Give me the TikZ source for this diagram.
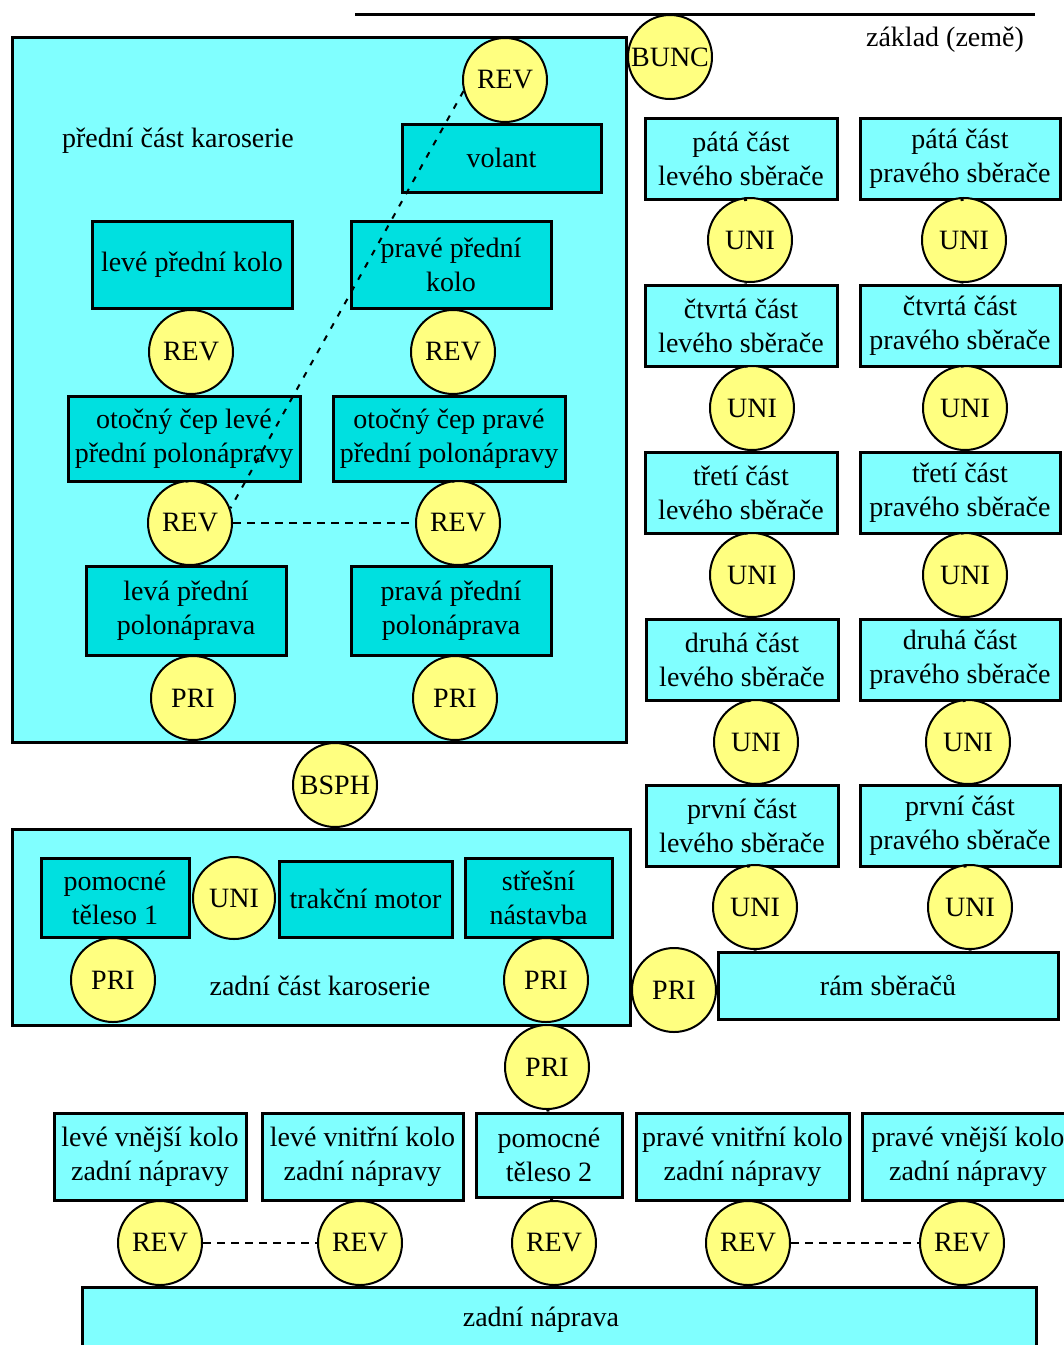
\documentclass[tikz,border=0pt]{standalone}
\usepackage{fontspec}
\setmainfont{Liberation Serif}
\definecolor{svetla}{HTML}{80FFFF}
\definecolor{tmava}{HTML}{00E0E0}
\definecolor{kloub}{HTML}{FFFF80}

\begin{document}
\begin{tikzpicture}[x=1pt, y=-1pt,
		every node/.style={font=\fontsize{28}{34}\selectfont, align=center},
		telo/.style={draw, line width=3pt, fill=svetla, inner sep=0pt},
		dil/.style={draw, line width=3pt, fill=tmava, inner sep=0pt},
		kl/.style={circle, draw, line width=2pt, fill=kloub, minimum size=84pt, inner sep=0pt},
		vazba/.style={line width=3pt},
		spoj/.style={line width=2pt, dash pattern=on 8pt off 6pt}]

		\useasboundingbox (0,0) rectangle (1064,1345);

		% karoserie
		\node[telo, minimum width=614pt, minimum height=705pt] (predni) at (319,389.5) {};
		\node[telo, minimum width=618pt, minimum height=196pt] (zadni) at (321,927) {};
		\node (predniT) at (178,141) {přední část karoserie};
		\node (zadniT) at (320,986) {zadní část karoserie};

		% zem
		\coordinate (zem1) at (355,14);
		\coordinate (zem2) at (1035,14);
		\draw[line width=3pt] (zem1) -- (zem2);
		\node (zemT) at (945,40) {základ (země)};
		\node[kl] (bunc) at (670,57) {BUNC};

		% predni cast
		\node[kl] (revT) at (505,80) {REV};
		\node[dil, minimum width=199pt, minimum height=68pt] (volant) at (501.5,158) {volant};
		\node[dil, minimum width=200pt, minimum height=87pt] (kolL) at (192,264.5) {levé přední kolo};
		\node[dil, minimum width=200pt, minimum height=87pt] (kolR) at (451,264.5) {pravé přední\\kolo};
		\node[kl] (revLa) at (191,352) {REV};
		\node[kl] (revRa) at (453,352) {REV};
		\node[dil, minimum width=232pt, minimum height=85pt] (cepL) at (184,438.5) {otočný čep levé\\přední polonápravy};
		\node[dil, minimum width=232pt, minimum height=85pt] (cepR) at (449,438.5) {otočný čep pravé\\přední polonápravy};
		\node[kl] (revLb) at (190,523) {REV};
		\node[kl] (revRb) at (458,523) {REV};
		\node[dil, minimum width=200pt, minimum height=89pt] (polL) at (186,610.5) {levá přední\\polonáprava};
		\node[dil, minimum width=200pt, minimum height=89pt] (polR) at (451,610.5) {pravá přední\\polonáprava};
		\node[kl] (priL) at (193,698) {PRI};
		\node[kl] (priR) at (455,698) {PRI};

		\node[kl] (bsph) at (335,785) {BSPH};

		% sberace
		\node[telo, minimum width=192pt, minimum height=81pt] (s5L) at (741,159) {pátá část\\levého sběrače};
		\node[telo, minimum width=192pt, minimum height=81pt] (s4L) at (741,325.5) {čtvrtá část\\levého sběrače};
		\node[telo, minimum width=192pt, minimum height=81pt] (s3L) at (741,492.5) {třetí část\\levého sběrače};
		\node[telo, minimum width=192pt, minimum height=81pt] (s2L) at (742,660) {druhá část\\levého sběrače};
		\node[telo, minimum width=192pt, minimum height=81pt] (s1L) at (742,825.5) {první část\\levého sběrače};
		\node[telo, minimum width=200pt, minimum height=81pt] (s5R) at (960,159) {pátá část\\pravého sběrače};
		\node[telo, minimum width=200pt, minimum height=81pt] (s4R) at (960,325.5) {čtvrtá část\\pravého sběrače};
		\node[telo, minimum width=200pt, minimum height=81pt] (s3R) at (960,492.5) {třetí část\\pravého sběrače};
		\node[telo, minimum width=200pt, minimum height=81pt] (s2R) at (960,660) {druhá část\\pravého sběrače};
		\node[telo, minimum width=200pt, minimum height=81pt] (s1R) at (960,825.5) {první část\\pravého sběrače};
		\node[kl] (u4L) at (750,240) {UNI};
		\node[kl] (u3L) at (752,408) {UNI};
		\node[kl] (u2L) at (752,575) {UNI};
		\node[kl] (u1L) at (756,742) {UNI};
		\node[kl] (u0L) at (755,907) {UNI};
		\node[kl] (u4R) at (964,240) {UNI};
		\node[kl] (u3R) at (965,408) {UNI};
		\node[kl] (u2R) at (965,575) {UNI};
		\node[kl] (u1R) at (968,742) {UNI};
		\node[kl] (u0R) at (970,907) {UNI};
		\node[telo, minimum width=340pt, minimum height=67pt] (ram) at (888,985.5) {rám sběračů};
		\node[kl] (priRam) at (674,990) {PRI};

		% zadni cast
		\node[dil, minimum width=148pt, minimum height=79pt] (pom1) at (115,897.5) {pomocné\\těleso 1};
		\node[kl, minimum size=82pt] (uniM) at (234,898) {UNI};
		\node[dil, minimum width=173pt, minimum height=76pt] (motor) at (365.5,899) {trakční motor};
		\node[dil, minimum width=147pt, minimum height=79pt] (stres) at (538.5,897.5) {střešní\\nástavba};
		\node[kl] (priA) at (113,980) {PRI};
		\node[kl] (priB) at (546,980) {PRI};
		\node[kl] (priC) at (547,1067) {PRI};

		% zadni naprava
		\node[telo, minimum width=192pt, minimum height=87pt] (koloLv) at (150,1156.5) {levé vnější kolo\\zadní nápravy};
		\node[telo, minimum width=201pt, minimum height=87pt] (koloLi) at (362.5,1156.5) {levé vnitřní kolo\\zadní nápravy};
		\node[telo, minimum width=146pt, minimum height=84pt] (pom2) at (549,1155) {pomocné\\těleso 2};
		\node[telo, minimum width=213pt, minimum height=87pt] (koloRi) at (742.5,1156.5) {pravé vnitřní kolo\\zadní nápravy};
		\node[telo, minimum width=212pt, minimum height=87pt] (koloRv) at (968,1156.5) {pravé vnější kolo\\zadní nápravy};
		\node[kl] (rev1) at (160,1243) {REV};
		\node[kl] (rev2) at (360,1243) {REV};
		\node[kl] (rev3) at (554,1243) {REV};
		\node[kl] (rev4) at (748,1243) {REV};
		\node[kl] (rev5) at (962,1243) {REV};
		\node[telo, minimum width=954pt, minimum height=80pt] (naprava) at (559,1327) {};
		\node (napravaT) at (541,1320) {zadní náprava};

		% vazby
		\draw[vazba] (revT) -- (volant);
		\draw[vazba] (kolL) -- (revLa) -- (cepL) -- (revLb) -- (polL) -- (priL);
		\draw[vazba] (kolR) -- (revRa) -- (cepR) -- (revRb) -- (polR) -- (priR);
		\draw[vazba] (s5L) -- (u4L) -- (s4L) -- (u3L) -- (s3L) -- (u2L) -- (s2L) -- (u1L) -- (s1L) -- (u0L) -- (ram.north -| u0L);
		\draw[vazba] (s5R) -- (u4R) -- (s4R) -- (u3R) -- (s3R) -- (u2R) -- (s2R) -- (u1R) -- (s1R) -- (u0R) -- (ram.north -| u0R);
		\draw[vazba] (pom1) -- (priA);
		\draw[vazba] (stres) -- (priB);
		\draw[vazba] (priC) -- (pom2) -- (rev3);
		\draw[vazba] (koloLv) -- (rev1);
		\draw[vazba] (koloLi) -- (rev2);
		\draw[vazba] (koloRi) -- (rev4);
		\draw[vazba] (koloRv.south -| rev5) -- (rev5);

		% rizeni
		\draw[spoj] (revLb) -- (revRb);
		\draw[spoj, dash pattern=on 6pt off 8pt] (revT.195) -- (revLb.20);
		\draw[spoj] (rev1) -- (rev2);
		\draw[spoj] (rev4) -- (rev5);

	\end{tikzpicture}
\end{document}
